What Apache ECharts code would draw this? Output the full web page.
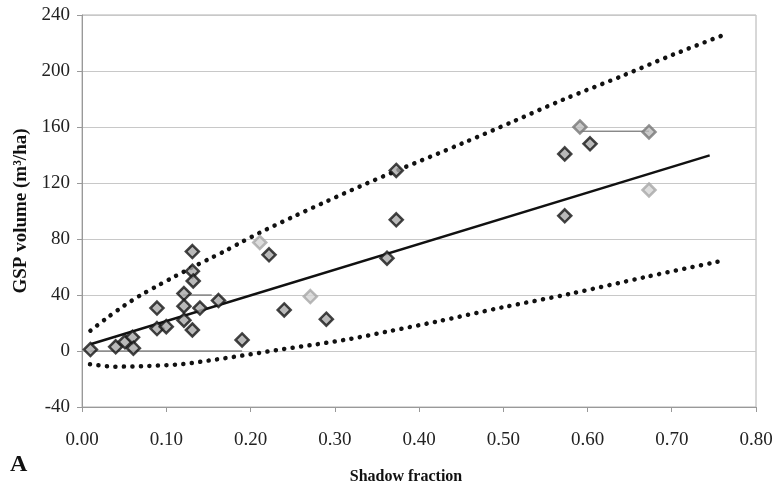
<!DOCTYPE html>
<html>
<head>
	<meta charset="UTF-8">
	<script src="https://cdn.jsdelivr.net/npm/echarts@6/dist/echarts.min.js"></script>
	<title></title>
	<style>body{margin:0;background:#fff;}</style>
</head>
<body>
	<div id="main" style="height:493px;width:776px;"></div>
	<script type="text/javascript">
        // shadow fraction / GSP volume
        var blackX = [0.01, 0.04, 0.051, 0.06, 0.061, 0.089, 0.089, 0.10, 0.121, 0.121, 0.121, 0.131, 0.131, 0.132, 0.131, 0.14, 0.162, 0.19, 0.222, 0.24, 0.29, 0.362, 0.373, 0.373, 0.573, 0.573, 0.603];
        var blackY = [1, 3, 6.6, 9.8, 2, 30.7, 16, 17.4, 41, 32, 22, 71, 57, 50, 15, 30.7, 36, 7.9, 68.7, 29.3, 22.7, 66.3, 129, 93.7, 140.8, 96.6, 148];
        var lightX = [0.211, 0.271, 0.673];
        var lightY = [77.5, 38.9, 115];
        var midX = [0.591, 0.673];
        var midY = [160, 156.5];

        // regression line end points
        var fitX = [0.01, 0.745];
        var fitY = [4.8, 139.7];

        // dotted bands
        var upperX = [0.01, 0.03, 0.05, 0.07, 0.09, 0.11, 0.13, 0.15, 0.17, 0.19, 0.211, 0.251, 0.29, 0.33, 0.3735, 0.4526, 0.512, 0.5713, 0.6425, 0.702, 0.764];
        var upperY = [14.5, 23.8, 32.4, 40, 46.7, 53.2, 59.5, 65.5, 71.5, 78, 84.5, 96, 106.8, 117.6, 128.8, 148.6, 164, 179.6, 196.8, 211.8, 226.3];
        var lowerX = [0.0095, 0.039, 0.0787, 0.1195, 0.16, 0.1994, 0.239, 0.2786, 0.318, 0.3616, 0.421, 0.5, 0.579, 0.67, 0.761];
        var lowerY = [-9.5, -11.2, -10.7, -9.3, -6, -2.4, 1.4, 4.8, 8.6, 13.8, 21, 31.3, 40.8, 53, 64.6];

        // thin dark segments visible in the scan
        var segs = [[[0.01, 0], [0.19, 0]], [[0.12, 40], [0.154, 40]], [[0.591, 157], [0.673, 157]]];

        var xTicks = ['0.00', '0.10', '0.20', '0.30', '0.40', '0.50', '0.60', '0.70', '0.80'];

        function zip(xs, ys) {
            var out = [];
            for (var i = 0; i < xs.length; i++) out.push([xs[i], ys[i]]);
            return out;
        }

        var serif = 'Liberation Serif';
        var myChart = echarts.init(document.getElementById('main'));

        var series = [];
        for (var s = 0; s < segs.length; s++) {
            series.push({
                type: 'line', data: segs[s], symbol: 'none', silent: true,
                lineStyle: {color: '#555', width: 1}, z: 1
            });
        }
        series.push(
            {
                type: 'line', data: zip(upperX, upperY), symbol: 'none', smooth: 0.3,
                lineStyle: {color: '#111', width: 4.5, type: [0.1, 8.4], cap: 'round'}, z: 2
            },
            {
                type: 'line', data: zip(lowerX, lowerY), symbol: 'none', smooth: 0.3,
                lineStyle: {color: '#111', width: 4.5, type: [0.1, 8.4], cap: 'round'}, z: 2
            },
            {
                type: 'line', data: zip(fitX, fitY), symbol: 'none',
                lineStyle: {color: '#111', width: 2.5}, z: 3
            },
            {
                type: 'scatter', data: zip(lightX, lightY), symbol: 'diamond', symbolSize: 13,
                itemStyle: {color: '#d4d4d4', borderColor: '#a8a8a8', borderWidth: 2.5}, z: 4
            },
            {
                type: 'scatter', data: zip(midX, midY), symbol: 'diamond', symbolSize: 13,
                itemStyle: {color: '#bdbdbd', borderColor: '#777', borderWidth: 2.5}, z: 4
            },
            {
                type: 'scatter', data: zip(blackX, blackY), symbol: 'diamond', symbolSize: 13,
                itemStyle: {color: '#a8a8a8', borderColor: '#151515', borderWidth: 2.5}, z: 5
            }
        );

        var option = {
            animation: false,
            grid: {left: 82, right: 20, top: 15, bottom: 86, show: true, borderColor: '#b0b0b0', borderWidth: 1},
            xAxis: {
                type: 'value', min: 0, max: 0.8, interval: 0.1,
                name: 'Shadow fraction', nameLocation: 'middle', nameGap: 62,
                nameTextStyle: {fontFamily: serif, fontWeight: 'bold', fontSize: 16, color: '#111', padding: [0, 26, 0, 0]},
                axisLine: {onZero: false, lineStyle: {color: '#999'}},
                axisTick: {show: true, length: 5, lineStyle: {color: '#999'}},
                splitLine: {show: false},
                axisLabel: {
                    margin: 24, fontFamily: serif, fontSize: 19, color: '#222',
                    formatter: function (v) { return xTicks[Math.round(v * 10)]; }
                }
            },
            yAxis: {
                type: 'value', min: -40, max: 240, interval: 40,
                name: 'GSP volume (m³/ha)', nameLocation: 'middle', nameGap: 51,
                nameTextStyle: {fontFamily: serif, fontWeight: 'bold', fontSize: 19, color: '#111'},
                axisLine: {show: true, lineStyle: {color: '#999'}},
                axisTick: {show: true, length: 5, lineStyle: {color: '#999'}},
                splitLine: {lineStyle: {color: '#c8c8c8'}},
                axisLabel: {margin: 12, fontFamily: serif, fontSize: 19, color: '#222'}
            },
            graphic: [{
                type: 'text', left: 10, top: 453,
                style: {text: 'A', font: 'bold 24px "Liberation Serif"', fill: '#111'}
            }],
            series: series
        };
        myChart.setOption(option);
	</script>
</body>
</html>
